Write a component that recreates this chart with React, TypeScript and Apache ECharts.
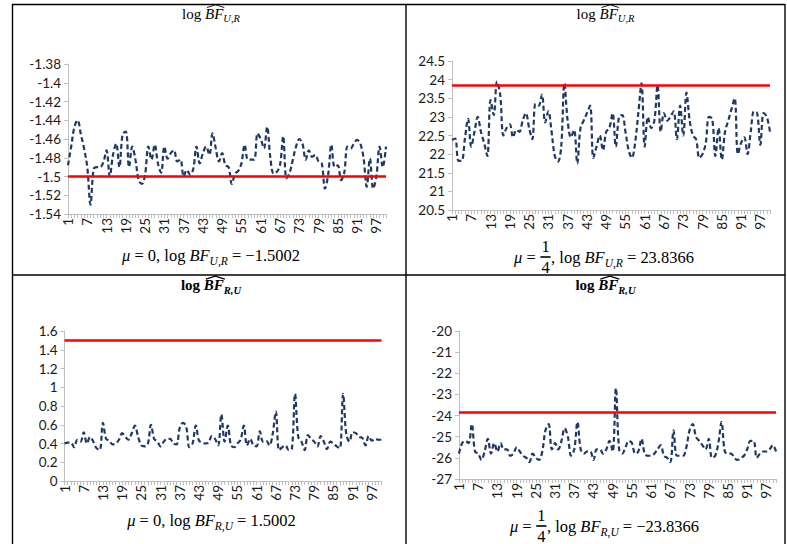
import React, { useEffect, useRef } from "react";
import * as echarts from "echarts";

// ---------------- data ----------------
const categories: string[] = Array.from({ length: 100 }, (_, i) => String(i + 1));

const logBF_UR_mu0 = [
  -1.488, -1.468, -1.447, -1.44, -1.455, -1.47, -1.49, -1.53, -1.492, -1.49,
  -1.49, -1.485, -1.472, -1.5, -1.477, -1.465, -1.49, -1.455, -1.452, -1.49,
  -1.468, -1.482, -1.504, -1.508, -1.498, -1.468, -1.482, -1.466, -1.486, -1.496,
  -1.468, -1.481, -1.475, -1.472, -1.484, -1.482, -1.5, -1.493, -1.498, -1.492,
  -1.468, -1.486, -1.475, -1.468, -1.477, -1.454, -1.47, -1.484, -1.475, -1.488,
  -1.49, -1.508, -1.497, -1.494, -1.486, -1.466, -1.482, -1.482, -1.482, -1.454,
  -1.46, -1.47, -1.447, -1.48, -1.497, -1.495, -1.488, -1.457, -1.502, -1.496,
  -1.482, -1.468, -1.46, -1.465, -1.482, -1.472, -1.479, -1.477, -1.484, -1.486,
  -1.513, -1.498, -1.466, -1.49, -1.488, -1.504, -1.496, -1.468, -1.47, -1.465,
  -1.461, -1.465, -1.48, -1.511, -1.481, -1.513, -1.5, -1.468, -1.49, -1.468,
];

const logBF_UR_mu14 = [
  22.38, 22.42, 21.82, 21.82, 22.4, 22.95, 22.2, 22.6, 23.0, 22.6,
  22.3, 21.95, 23.45, 23.05, 23.95, 23.6, 22.5, 22.7, 22.8, 22.45,
  22.65, 22.6, 22.9, 23.1, 22.7, 22.4, 23.35, 23.3, 23.6, 22.85,
  23.15, 22.6, 21.95, 21.8, 22.2, 23.9, 22.9, 22.45, 22.65, 21.75,
  22.7, 22.9, 23.1, 23.3, 21.9, 22.2, 22.5, 22.1, 22.6, 22.7,
  23.1, 22.2, 23.0, 23.05, 22.6, 22.1, 21.9, 22.3, 23.1, 23.9,
  22.2, 23.0, 22.7, 22.9, 23.85, 22.6, 23.1, 22.9, 23.0, 23.15,
  22.4, 23.3, 22.5, 23.65, 22.9, 22.5, 22.4, 21.9, 22.0, 22.3,
  23.0, 22.95, 21.95, 22.7, 21.85, 22.6, 22.9, 23.2, 23.5, 22.0,
  22.3, 22.45, 22.0, 22.6, 23.15, 23.1, 22.25, 23.1, 23.0, 22.6,
];

const logBF_RU_mu0 = [
  0.4, 0.41, 0.41, 0.36, 0.44, 0.42, 0.52, 0.4, 0.47, 0.42,
  0.35, 0.33, 0.62, 0.45, 0.43, 0.39, 0.4, 0.44, 0.51, 0.47,
  0.44, 0.51, 0.59, 0.47, 0.38, 0.37, 0.39, 0.6, 0.45, 0.42,
  0.37, 0.42, 0.45, 0.45, 0.4, 0.39, 0.57, 0.62, 0.58, 0.36,
  0.4, 0.59, 0.43, 0.41, 0.4, 0.41, 0.48, 0.45, 0.38, 0.71,
  0.42, 0.59, 0.38, 0.36, 0.4, 0.44, 0.59, 0.38, 0.45, 0.38,
  0.37, 0.53, 0.42, 0.43, 0.38, 0.5, 0.74, 0.33, 0.36, 0.38,
  0.33, 0.34, 0.93, 0.47, 0.42, 0.33, 0.49, 0.45, 0.42, 0.37,
  0.48, 0.42, 0.34, 0.42, 0.4, 0.37, 0.35, 0.93, 0.5, 0.42,
  0.52, 0.51, 0.47, 0.46, 0.38, 0.48, 0.43, 0.45, 0.44, 0.44,
];

const logBF_RU_mu14 = [
  -25.8, -25.3, -25.2, -25.3, -24.4, -25.7, -25.8, -26.1, -25.7, -25.1,
  -25.8, -25.3, -25.7, -25.3, -25.6, -25.6, -25.9, -25.8, -25.5, -25.7,
  -25.9, -26.0, -26.2, -25.8, -26.0, -26.1, -25.7, -24.7, -24.4, -25.6,
  -25.3, -25.6, -25.2, -24.6, -25.0, -25.9, -25.6, -24.3, -25.6, -25.8,
  -25.7, -25.7, -26.1, -25.6, -25.6, -25.8, -25.6, -25.2, -25.7, -22.7,
  -25.6, -25.8, -25.5, -25.2, -25.3, -25.8, -25.7, -25.1, -25.8, -25.9,
  -25.9, -25.8, -25.6, -25.4, -25.9, -26.0, -26.2, -24.7, -25.9, -25.9,
  -25.9, -25.5, -24.7, -24.4, -25.0, -25.2, -25.4, -25.6, -25.1, -26.0,
  -25.9, -25.3, -24.3, -25.7, -25.8, -25.8, -26.0, -26.1, -26.0, -25.9,
  -25.6, -25.2, -25.2, -26.0, -25.8, -25.7, -25.7, -25.6, -25.4, -25.7,
];

const thresholds = [-1.5002, 23.8366, 1.5002, -23.8366];
const yMins = [-1.54, 20.5, 0, -27];
const yMaxs = [-1.38, 24.5, 1.6, -20];
const ySteps = [0.02, 0.5, 0.2, 1];
const seriesList = [logBF_UR_mu0, logBF_UR_mu14, logBF_RU_mu0, logBF_RU_mu14];

// ---------------- layout ----------------
const grids = [
  { left: 68, top: 64, width: 318, height: 150 },
  { left: 452, top: 61, width: 318, height: 149 },
  { left: 64.5, top: 331, width: 317, height: 150 },
  { left: 459, top: 331, width: 317, height: 148 },
];

const SERIF = "'Liberation Serif', 'Times New Roman', serif";
const SANS = "Lato, 'Open Sans', sans-serif";

type Part = { t?: string; it?: boolean; b?: boolean; sub?: boolean; hat?: boolean; frac?: [string, string] };

let mctx: CanvasRenderingContext2D | null = null;
function tw(text: string, font: string): number {
  if (!mctx) mctx = document.createElement("canvas").getContext("2d");
  mctx!.font = font;
  return mctx!.measureText(text).width;
}
function fontOf(p: Part, size: number) {
  return `${p.it ? "italic " : ""}${p.b ? "bold " : ""}${size}px ${SERIF}`;
}
function partWidths(parts: Part[], size: number) {
  const sub = size * 0.7;
  return parts.map((p) => {
    if (p.frac) return Math.max(tw(p.frac[0], fontOf(p, size)), tw(p.frac[1], fontOf(p, size))) + 3;
    return tw(p.t || "", fontOf(p, p.sub ? sub : size));
  });
}
function widthOf(parts: Part[], size: number) {
  return partWidths(parts, size).reduce((a, b) => a + b, 0);
}
function mathLine(parts: Part[], cx: number, cy: number, size: number): any[] {
  const sub = size * 0.7;
  const widths = partWidths(parts, size);
  const total = widths.reduce((a, b) => a + b, 0);
  let x = cx - total / 2;
  const els: any[] = [];
  parts.forEach((p, i) => {
    const w = widths[i];
    if (p.frac) {
      const f = fontOf(p, size);
      els.push({ type: "text", x: x + w / 2, y: cy - 10.5, style: { text: p.frac[0], font: f, fill: "#000", textAlign: "center", textVerticalAlign: "middle" } });
      els.push({ type: "line", shape: { x1: x + 0.5, y1: cy, x2: x + w - 0.5, y2: cy }, style: { stroke: "#000", lineWidth: 1.6 } });
      els.push({ type: "text", x: x + w / 2, y: cy + 10, style: { text: p.frac[1], font: f, fill: "#000", textAlign: "center", textVerticalAlign: "middle" } });
    } else {
      const s = p.sub ? sub : size;
      const y = p.sub ? cy + size * 0.36 : cy;
      els.push({ type: "text", x, y, style: { text: p.t, font: fontOf(p, s), fill: "#000", textAlign: "left", textVerticalAlign: "middle" } });
      if (p.hat) {
        const capTop = cy - size * 0.33;
        els.push({
          type: "polyline",
          shape: { points: [[x + 2, capTop - 1], [x + w / 2 + 1.5, capTop - 3.8], [x + w + 1, capTop - 1]] },
          style: { stroke: "#000", lineWidth: p.b ? 1.3 : 0.9, fill: null },
        });
      }
    }
    x += w;
  });
  return els;
}

function App() {
  const ref = useRef<HTMLDivElement>(null);
  useEffect(() => {
    const chart = echarts.init(ref.current!, null, { renderer: "svg" });

    const titleUR: Part[] = [{ t: "log " }, { t: "BF", it: true, hat: true }, { t: "U,R", it: true, sub: true }];
    const titleRU: Part[] = [{ t: "log ", b: true }, { t: "BF", it: true, b: true, hat: true }, { t: "R,U", it: true, b: true, sub: true }];
    const cap1: Part[] = [{ t: "μ", it: true }, { t: " = 0, log " }, { t: "BF", it: true }, { t: "U,R", it: true, sub: true }, { t: " = −1.5002" }];
    const cap2: Part[] = [{ t: "μ", it: true }, { t: " = " }, { frac: ["1", "4"] }, { t: ", log " }, { t: "BF", it: true }, { t: "U,R", it: true, sub: true }, { t: " = 23.8366" }];
    const cap3: Part[] = [{ t: "μ", it: true }, { t: " = 0, log " }, { t: "BF", it: true }, { t: "R,U", it: true, sub: true }, { t: " = 1.5002" }];
    const cap4: Part[] = [{ t: "μ", it: true }, { t: " = " }, { frac: ["1", "4"] }, { t: ", log " }, { t: "BF", it: true }, { t: "R,U", it: true, sub: true }, { t: " = −23.8366" }];

    const tSize = 15;
    const cSize = Math.min(19, Math.max(14, 16 * 178 / widthOf(cap1, 16)));

    const border = { stroke: "#000", lineWidth: 1.4 };
    const graphics: any[] = [
      { type: "line", shape: { x1: 12, y1: 4.5, x2: 785, y2: 4.5 }, style: border },
      { type: "line", shape: { x1: 12, y1: 275, x2: 785, y2: 275 }, style: border },
      { type: "line", shape: { x1: 12.5, y1: 4, x2: 12.5, y2: 544 }, style: border },
      { type: "line", shape: { x1: 406, y1: 4, x2: 406, y2: 544 }, style: border },
      { type: "line", shape: { x1: 785, y1: 4, x2: 785, y2: 544 }, style: border },
      ...mathLine(titleUR, 211, 13.5, tSize),
      ...mathLine(titleUR, 605.5, 13.5, tSize),
      ...mathLine(titleRU, 211, 285, tSize),
      ...mathLine(titleRU, 605.5, 285, tSize),
      ...mathLine(cap1, 211, 255, cSize),
      ...mathLine(cap2, 604, 257, cSize),
      ...mathLine(cap3, 211.5, 520, cSize),
      ...mathLine(cap4, 604.5, 526, cSize),
    ];

    const axisGrey = "#BFBFBF";
    const labelStyle = { fontSize: 13.5, fontFamily: SANS, color: "#1a1a1a" };
    const option: any = {
      animation: false,
      backgroundColor: "#ffffff",
      grid: grids.map((g) => ({ ...g, containLabel: false })),
      xAxis: grids.map((_, i) => ({
        type: "category",
        gridIndex: i,
        data: categories,
        boundaryGap: false,
        axisLine: { show: true, lineStyle: { color: axisGrey, width: 1 } },
        axisTick: { show: true, interval: 0, length: 4, lineStyle: { color: axisGrey } },
        axisLabel: { ...labelStyle, interval: 5, rotate: 90, margin: 4 },
        splitLine: { show: false },
      })),
      yAxis: grids.map((_, i) => ({
        type: "value",
        gridIndex: i,
        min: yMins[i],
        max: yMaxs[i],
        interval: ySteps[i],
        axisLine: { show: true, lineStyle: { color: axisGrey, width: 1 } },
        axisTick: { show: true, length: 4, lineStyle: { color: axisGrey } },
        axisLabel: { ...labelStyle, margin: 7 },
        splitLine: { show: false },
      })),
      series: seriesList.map((d, i) => ({
        type: "line",
        xAxisIndex: i,
        yAxisIndex: i,
        data: d,
        showSymbol: false,
        smooth: 0.35,
        lineStyle: { color: "#1F3864", width: 2.2, type: [5, 3] },
        markLine: {
          silent: true,
          symbol: "none",
          label: { show: false },
          lineStyle: { color: "#FF0000", width: 2.5, type: "solid" },
          data: [{ yAxis: thresholds[i] }],
        },
        z: 3,
      })),
      graphic: { elements: graphics },
    };
    chart.setOption(option);
    return () => chart.dispose();
  }, []);
  return <div ref={ref} style={{ position: "fixed", left: 0, top: 0, width: 787, height: 544, background: "#fff" }} />;
}

export default App;
